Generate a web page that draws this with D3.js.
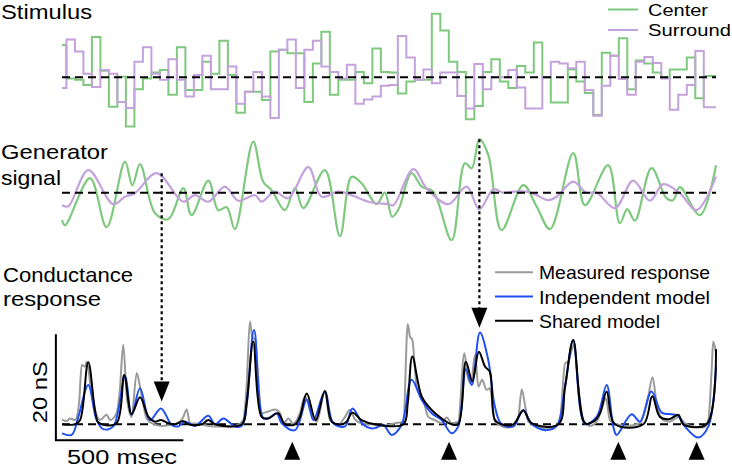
<!DOCTYPE html>
<html><head><meta charset="utf-8">
<script src="https://cdn.jsdelivr.net/npm/d3@7"></script>
<style>
html,body{margin:0;padding:0;background:#fff;}
svg{display:block;font-family:"Liberation Sans",Arial,Helvetica,sans-serif;}
</style></head><body>
<svg id="chart" width="732" height="467"></svg>
<script>
// ---------------- DATA ----------------
// Stimulus frames (33.33 ms each), contrast units
const centerStim = [0.54,-0.02,-0.04,-0.13,0.67,0.11,-0.49,0.01,-0.82,-0.20,-0.02,0.08,0.12,-0.29,0.50,-0.21,-0.21,0.26,0.06,0.61,0.04,-0.59,-0.24,-0.24,-0.38,0.43,0.46,0.40,0.40,-0.41,0.23,0.76,-0.29,-0.04,-0.04,0.09,-0.10,0.48,0.09,0.08,-0.27,-0.07,-0.04,-0.04,1.06,0.78,0.26,0.09,-0.70,-0.48,0.09,0.30,-0.07,-0.18,0.19,0.08,0.58,0.00,-0.42,-0.42,0.13,-0.07,-0.26,-0.63,0.41,0.36,0.65,-0.20,0.28,0.23,0.08,0.00,0.13,0.13,0.33,-0.35,0.02];
const surroundStim = [-0.18,0.63,0.43,0.06,-0.16,0.12,0.06,-0.41,-0.51,0.26,0.50,0.06,-0.04,0.30,-0.04,-0.32,0.04,0.36,-0.20,-0.20,0.18,-0.44,-0.24,0.09,-0.32,-0.68,0.46,0.63,-0.18,0.46,0.61,0.18,0.09,-0.02,0.21,-0.44,-0.37,-0.32,-0.14,-0.13,0.69,0.33,-0.04,0.13,-0.10,0.08,0.08,-0.31,-0.52,0.22,-0.20,0.00,0.00,0.12,-0.17,-0.52,-0.52,0.00,0.26,0.23,0.15,0.26,-0.21,-0.64,-0.14,0.36,-0.03,-0.29,0.26,0.34,0.24,-0.02,-0.54,-0.29,-0.13,0.44,-0.50];
const frameDur = 33.33, framePhase = 17.3;   // ms

// Generator signals: [time ms, value]
const genCenter = [[0,-0.55],[12,-0.65],[110,0.29],[175,-0.69],[247,0.62],[276,0.15],[306,0.57],[365,-0.41],[417,-0.53],[476,0.09],[508,-0.45],[574,0.24],[613,-0.35],[646,-0.29],[678,-0.73],[750,1.02],[789,0.22],[822,0.05],[874,-0.35],[914,0.09],[946,-0.31],[1031,0.45],[1090,-0.87],[1136,0.32],[1175,0.19],[1234,-0.23],[1266,0],[1295,-0.48],[1320,-0.33],[1371,0.39],[1411,0.12],[1456,0.02],[1528,-0.95],[1580,0.59],[1607,0.49],[1637,1.07],[1672,0.75],[1724,-0.75],[1809,0.15],[1862,-0.28],[1914,-0.73],[2005,0.79],[2051,-0.25],[2142,0.55],[2188,-0.61],[2217,-0.33],[2247,-0.56],[2312,0.49],[2371,-0.11],[2397,-0.15],[2423,0.11],[2502,-0.45],[2565,0.55]];
const genSurround = [[0,-0.25],[25,-0.27],[103,0.45],[201,-0.23],[247,-0.08],[286,-0.01],[371,0.39],[476,-0.18],[521,-0.05],[574,-0.18],[639,0.12],[691,-0.16],[757,-0.05],[783,-0.18],[835,0.02],[887,-0.11],[966,0.51],[1018,-0.08],[1084,0.02],[1136,-0.05],[1201,-0.18],[1280,-0.23],[1300,-0.25],[1378,0.47],[1430,0.09],[1515,-0.23],[1587,0.12],[1637,-0.33],[1692,0.07],[1731,0],[1770,0.02],[1822,0.02],[1862,-0.05],[1907,-0.15],[1940,-0.08],[2005,0.22],[2057,0],[2097,0],[2169,-0.31],[2240,0.24],[2306,-0.16],[2358,0.17],[2423,-0.01],[2489,-0.35],[2565,0.32]];

// Conductance responses: [time ms, nS]
const measured = [[0,0.9],[18,0.6],[31,1.1],[51,0.8],[67,4.0],[77,11.2],[90,10.9],[97,11.8],[116,5.8],[136,1.8],[149,0.8],[175,1.8],[188,0.8],[214,2.1],[227,6.5],[240,15.0],[254,5.2],[273,1.4],[293,9.7],[306,7.1],[332,1.1],[352,0.2],[391,-0.3],[417,-0.2],[450,0.1],[476,1.4],[489,2.8],[502,0.2],[535,0.1],[574,-0.3],[626,-0.4],[678,-0.3],[711,0.8],[724,7.1],[737,19.4],[746,16.5],[757,15.9],[783,2.1],[809,2.4],[835,2.8],[855,2.1],[868,0.1],[888,1.1],[907,0.1],[933,2.1],[953,5.3],[973,2.7],[999,0.5],[1031,6.2],[1051,0.8],[1084,-0.1],[1110,1.4],[1129,2.7],[1149,0.9],[1175,0.2],[1214,0],[1254,-0.3],[1306,0.2],[1339,0.5],[1356,18.9],[1365,16.5],[1374,15.9],[1391,7.1],[1417,4.6],[1437,1.4],[1463,0.8],[1489,0.2],[1509,1.3],[1528,0.2],[1554,0.5],[1578,13.4],[1591,9.0],[1604,7.7],[1620,13.1],[1633,7.1],[1648,8.4],[1665,6.5],[1678,6.8],[1698,0.5],[1744,-0.6],[1770,-0.4],[1790,1.4],[1803,6.6],[1816,3.6],[1829,0.5],[1862,-0.4],[1894,-0.8],[1927,-0.6],[1953,0.8],[1973,11.5],[1986,11.8],[1999,14.0],[2008,15.0],[2025,7.1],[2045,0.8],[2071,-0.3],[2097,0.5],[2116,2.7],[2133,4.9],[2149,0.8],[2169,0.1],[2214,-0.3],[2267,0.2],[2299,5.2],[2316,8.9],[2332,4.0],[2358,0.8],[2384,0.5],[2417,1.4],[2443,0.2],[2476,-0.4],[2515,-0.6],[2535,0.8],[2548,10.3],[2554,15.6],[2565,13.4]];
const independent = [[0,-1.7],[38,-2.0],[64,1.4],[103,7.4],[136,0.8],[162,-0.9],[201,-0.4],[247,9.0],[273,1.8],[306,6.8],[345,0.8],[388,3.0],[430,-0.1],[456,-0.4],[482,0.5],[522,-0.3],[574,1.6],[600,0],[633,1.1],[678,-0.4],[705,-0.3],[753,17.8],[790,1.1],[816,1.3],[842,2.1],[862,0.2],[914,-1.1],[960,4.7],[986,0.8],[1031,6.2],[1064,0.2],[1110,-0.4],[1139,3.0],[1182,-0.1],[1214,-0.8],[1234,-0.6],[1260,-0.1],[1293,-2.0],[1332,-0.1],[1371,8.4],[1411,4.6],[1450,2.1],[1489,0.8],[1528,-1.7],[1554,-0.4],[1584,10.4],[1607,7.4],[1639,17.3],[1672,12.1],[1698,3.3],[1724,0],[1770,-0.4],[1809,2.7],[1842,0.1],[1894,-1.1],[1940,-0.3],[1973,7.1],[2005,15.8],[2051,0.1],[2097,1.4],[2136,7.4],[2162,-0.4],[2175,-2.0],[2234,1.9],[2267,0.5],[2312,6.2],[2352,2.2],[2391,1.9],[2417,1.6],[2443,-0.4],[2495,-2.5],[2535,-0.4],[2565,10.9]];
const shared = [[0,0],[51,0],[71,0.8],[103,11.7],[140,0.5],[156,0],[214,0.2],[244,9.3],[273,1.9],[306,5.1],[339,1.4],[365,0.5],[388,0.8],[417,0.2],[443,0],[476,0.6],[495,0],[548,0],[574,0.8],[600,0],[705,0],[724,4.0],[750,15.6],[783,1.4],[809,1.1],[847,2.1],[875,0],[914,0],[933,1.4],[960,5.8],[995,0.8],[1031,6.3],[1058,0.5],[1097,0],[1116,0.5],[1139,2.2],[1175,0.8],[1228,0],[1339,0],[1356,4.0],[1374,12.8],[1411,5.2],[1450,2.7],[1489,1.1],[1528,0],[1554,0],[1584,11.8],[1609,8.1],[1635,13.7],[1659,10.9],[1678,9.9],[1698,0.8],[1724,0],[1770,0],[1809,2.6],[1842,0.2],[1947,0],[1973,7.1],[2005,15.9],[2051,0.2],[2084,0.5],[2110,2.1],[2136,6.2],[2169,0],[2280,0],[2315,5.3],[2345,1.4],[2384,1.0],[2417,1.8],[2437,0],[2528,0],[2565,14.2]];

// Arrows from generator peaks to responses
const arrowTimes = [391, 1637];
const arrowGenValues = [0.39, 1.07];
const arrowTipNS = [4.3, 18.2];
// Event markers (up triangles)
const eventTimes = [903, 1518, 2182, 2489];

const stimLegend = ["Center", "Surround"];
const respLegend = ["Measured response", "Independent model", "Shared model"];
const scaleBarMs = 500, scaleBarNS = 20;

// ---------------- DRAWING ----------------
const COL = {center:"#7fc97f", surround:"#c4a2dc", measured:"#9a9a9a", indep:"#1f4ff5", shared:"#000"};
const tMax = 2565;
const svg = d3.select("#chart");
const x = d3.scaleLinear().domain([0, tMax]).range([62, 716]);
const yStim = d3.scaleLinear().domain([-1, 1]).range([137.3, 17.3]);
const yGen = d3.scaleLinear().domain([-1, 1]).range([242.7, 142.7]);
const yResp = d3.scaleLinear().domain([0, 20]).range([424.3, 318.3]);

function dashedZero(y){
  svg.append("line").attr("x1", x(0)).attr("x2", x(tMax)).attr("y1", y(0)).attr("y2", y(0))
    .attr("stroke","#000").attr("stroke-width",2).attr("stroke-dasharray","8,5");
}
function label(txt, xx, yy, size, len){
  const t = svg.append("text").attr("x", xx).attr("y", yy).attr("font-size", size).attr("fill","#000").text(txt);
  if(len) t.attr("textLength", len).attr("lengthAdjust","spacingAndGlyphs");
  return t;
}

// --- Stimulus panel
function stimPoints(vals){
  const pts = vals.map((v,k)=>[Math.max(0, framePhase + frameDur*(k-1)), v]);
  pts.push([tMax, vals[vals.length-1]]);
  return pts;
}
const stimLine = d3.line().x(d=>x(d[0])).y(d=>yStim(d[1])).curve(d3.curveStepAfter);
svg.append("path").attr("d", stimLine(stimPoints(centerStim))).attr("fill","none").attr("stroke",COL.center).attr("stroke-width",2);
svg.append("path").attr("d", stimLine(stimPoints(surroundStim))).attr("fill","none").attr("stroke",COL.surround).attr("stroke-width",2);
dashedZero(yStim);

// --- Generator panel
const smooth = d3.curveCatmullRom.alpha(0.5);
const genLine = d3.line().x(d=>x(d[0])).y(d=>yGen(d[1])).curve(smooth);
svg.append("path").attr("d", genLine(genCenter)).attr("fill","none").attr("stroke",COL.center).attr("stroke-width",2.2);
svg.append("path").attr("d", genLine(genSurround)).attr("fill","none").attr("stroke",COL.surround).attr("stroke-width",2.2);
dashedZero(yGen);

// --- Response panel
dashedZero(yResp);
const respLineSharp = d3.line().x(d=>x(d[0])).y(d=>yResp(d[1])).curve(d3.curveMonotoneX);
const respLine = d3.line().x(d=>x(d[0])).y(d=>yResp(d[1])).curve(smooth);
svg.append("path").attr("d", respLineSharp(measured)).attr("fill","none").attr("stroke",COL.measured).attr("stroke-width",2);
svg.append("path").attr("d", respLine(independent)).attr("fill","none").attr("stroke",COL.indep).attr("stroke-width",2);
svg.append("path").attr("d", respLine(shared)).attr("fill","none").attr("stroke",COL.shared).attr("stroke-width",2);

// scale bars
const barT0 = -24, barNS0 = -3;
svg.append("path")
  .attr("d", `M${x(barT0)},${yResp(barNS0+scaleBarNS)}V${yResp(barNS0)}H${x(barT0+scaleBarMs)}`)
  .attr("fill","none").attr("stroke","#000").attr("stroke-width",2);
label(scaleBarMs+" msec", 67, 464, 20, 110);
label(scaleBarNS+" nS", 0, 0, 21, 62)
  .attr("text-anchor","middle").attr("transform", `translate(46.5,${(yResp(barNS0)+yResp(barNS0+scaleBarNS))/2 + 5}) rotate(-90)`);

// arrows
arrowTimes.forEach((t,i)=>{
  const xx = x(t), y0 = yGen(arrowGenValues[i]), yTip = yResp(arrowTipNS[i]);
  svg.append("line").attr("x1",xx).attr("x2",xx).attr("y1",y0).attr("y2",yTip-19)
    .attr("stroke","#000").attr("stroke-width",2.2).attr("stroke-dasharray","3,3");
  svg.append("path").attr("d",`M${xx-8},${yTip-20}L${xx+8},${yTip-20}L${xx},${yTip}Z`).attr("fill","#000");
});
// event triangles
eventTimes.forEach(t=>{
  const xx = x(t), yTop = yResp(-3.3);
  svg.append("path").attr("d",`M${xx},${yTop}L${xx+8},${yTop+18}L${xx-8},${yTop+18}Z`).attr("fill","#000");
});

// --- Panel labels
label("Stimulus", 1, 19, 21, 91);
label("Generator", 1, 159, 21, 107);
label("signal", 1, 185, 21, 60);
label("Conductance", 3, 282, 21, 130);
label("response", 3, 306, 21, 98);

// --- Stimulus legend
[COL.center, COL.surround].forEach((c,i)=>{
  const yy = 9.5 + i*20.5;
  svg.append("line").attr("x1",608).attr("x2",638).attr("y1",yy).attr("y2",yy).attr("stroke",c).attr("stroke-width",2);
  label(stimLegend[i], 648, yy+6, 17, i===0?60:83);
});
// --- Response legend
[COL.measured, COL.indep, COL.shared].forEach((c,i)=>{
  const yy = 272.3 + i*24.2;
  svg.append("line").attr("x1",495).attr("x2",533).attr("y1",yy).attr("y2",yy).attr("stroke",c).attr("stroke-width",2);
  label(respLegend[i], 539, yy+7, 18.5, i===2?121:171);
});
</script>
</body></html>
